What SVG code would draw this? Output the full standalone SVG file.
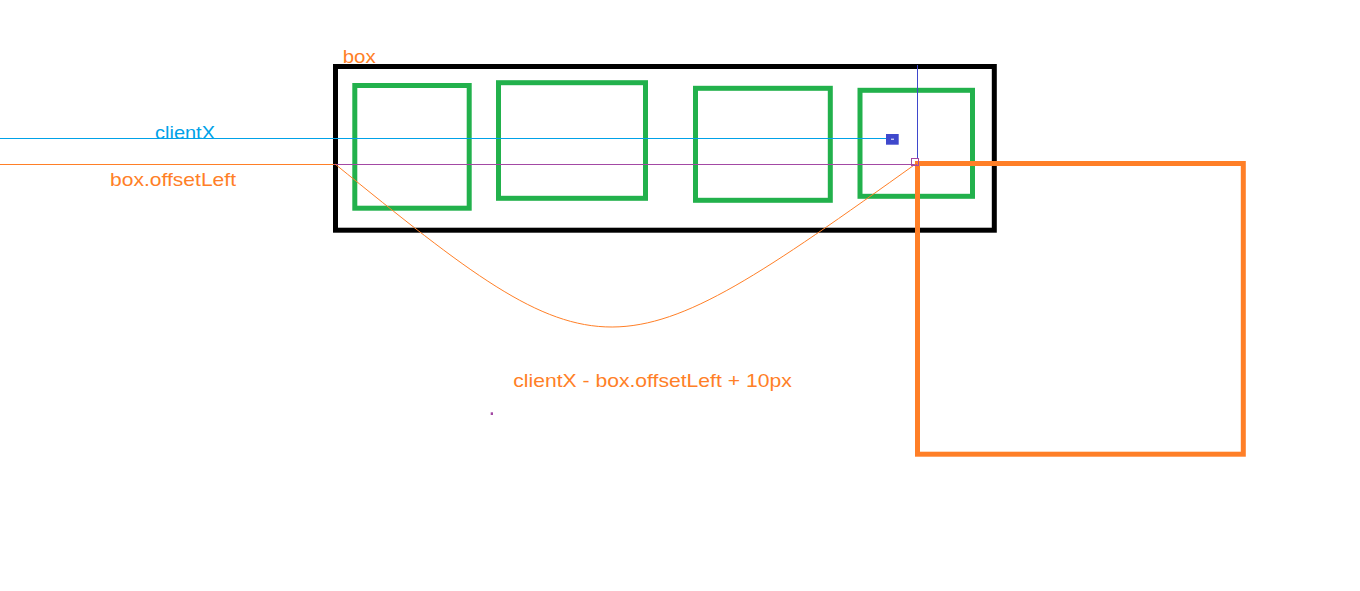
<svg xmlns="http://www.w3.org/2000/svg" width="1360" height="591" viewBox="0 0 1360 591">
<style>
.frame{fill:none;stroke:#000;stroke-width:5}
.item{fill:none;stroke:#22b14c;stroke-width:5}
.drag{fill:none;stroke:#ff7f27;stroke-width:5}
.t{font-family:"Liberation Sans",Arial,sans-serif;font-size:19px}
.orange{fill:#ff7f27}
.blue{fill:#00a2e8}
.ln{fill:none;stroke-width:1}
</style>
<rect width="1360" height="591" fill="#fff"/>
<g id="box">
<rect class="frame" x="335.5" y="66.5" width="658.8" height="163.7"/>
<text class="t orange" x="342.7" y="63.3" textLength="33" lengthAdjust="spacingAndGlyphs">box</text>
</g>
<g id="item1"><rect class="item" x="354.8" y="85.5" width="114.4" height="122.7"/></g>
<g id="item2"><rect class="item" x="498.5" y="82.7" width="147" height="115.6"/></g>
<g id="item3"><rect class="item" x="695.5" y="88.3" width="134.8" height="112"/></g>
<g id="item4"><rect class="item" x="860" y="90.3" width="112.5" height="106"/></g>
<g id="drag"><rect class="drag" x="917.5" y="163.5" width="325.8" height="290.7"/></g>
<g id="connectors">
<line class="ln" x1="0" y1="138.5" x2="892" y2="138.5" stroke="#00a2e8"/>
<line class="ln" x1="0" y1="164.5" x2="334" y2="164.5" stroke="#ff7f27"/>
<line class="ln" x1="334" y1="164.5" x2="917" y2="164.5" stroke="#a349a4"/>
<line class="ln" x1="917.5" y1="65" x2="917.5" y2="159" stroke="#3f48cc"/>
<path class="ln" d="M335,164 C603,382 612,381 917,163" stroke="#ff7f27"/>
</g>
<g id="cursor">
<rect x="886" y="134" width="12.7" height="10.7" fill="#3f48cc"/>
<line x1="891" y1="139.2" x2="894" y2="139.2" stroke="#fff" stroke-width="1"/>
</g>
<g id="corner"><rect x="911.5" y="158.5" width="7" height="7" fill="none" stroke="#a349a4" stroke-width="1"/></g>
<g id="labels">
<text class="t blue" x="155" y="138.5" textLength="60" lengthAdjust="spacingAndGlyphs">clientX</text>
<text class="t orange" x="110" y="186" textLength="126" lengthAdjust="spacingAndGlyphs">box.offsetLeft</text>
<text class="t orange" x="513.3" y="386.7" textLength="278.4" lengthAdjust="spacingAndGlyphs">clientX - box.offsetLeft + 10px</text>
</g>
<rect x="490.7" y="412.3" width="2.3" height="2.7" fill="#a349a4"/>
</svg>
